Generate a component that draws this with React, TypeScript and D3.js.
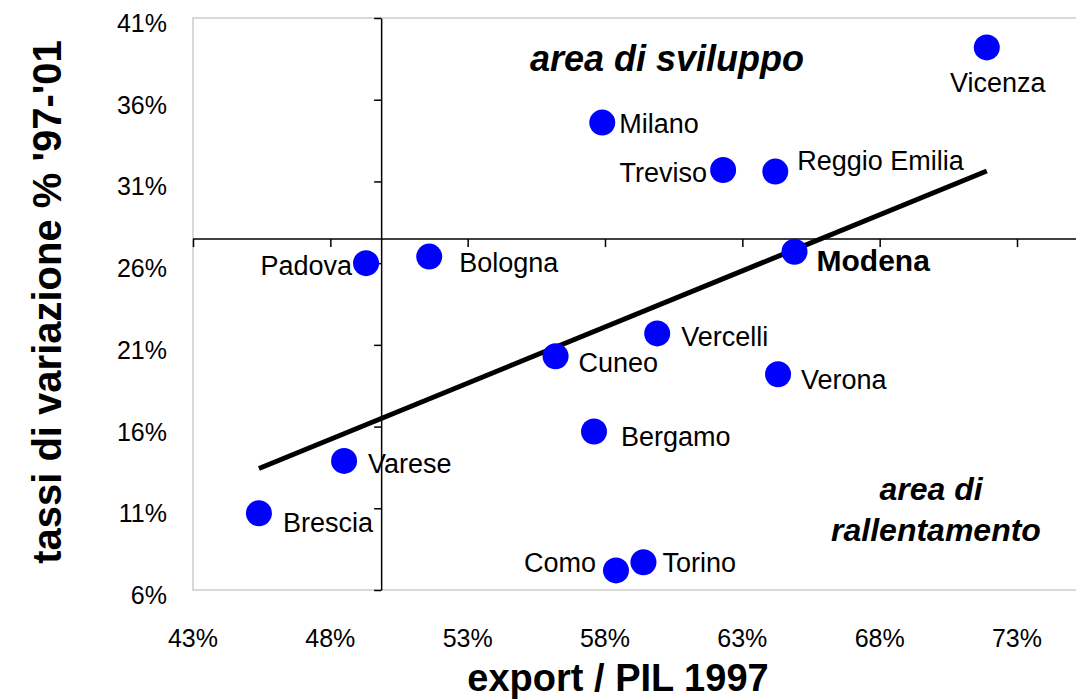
import { useEffect, useRef } from 'react';
import * as d3 from 'd3';

// ── Data: export/PIL 1997 vs growth '97-'01 (percent) ───────────────────────
const CITIES = ['Vicenza', 'Milano', 'Treviso', 'Reggio Emilia', 'Modena', 'Padova', 'Bologna',
  'Vercelli', 'Cuneo', 'Verona', 'Bergamo', 'Varese', 'Brescia', 'Como', 'Torino'];
const EXPORT_PIL = [71.9, 57.9, 62.3, 64.2, 64.9, 49.3, 51.6, 59.9, 56.2, 64.3, 57.6, 48.5, 45.4, 58.4, 59.4];
const GROWTH = [39.2, 34.6, 31.7, 31.6, 26.7, 26.0, 26.4, 21.7, 20.3, 19.2, 15.7, 13.9, 10.7, 7.2, 7.7];
const X_TICKS = [43, 48, 53, 58, 63, 68, 73];
const Y_TICKS = [6, 11, 16, 21, 26, 31, 36, 41];
const CROSS_X = 49.85;  // where the vertical axis sits
const CROSS_Y = 27.47;  // where the horizontal axis sits

// label placement per city: [dx, dy, anchor, bold]
const LABEL_POS: [number, number, string, boolean][] = [
  [11, 45, 'middle', false], [17, 10, 'start', false], [-16, 12, 'end', false], [22, -2, 'start', false],
  [22, 19, 'start', true], [-14, 12, 'end', false], [30, 15, 'start', false], [24, 13, 'start', false],
  [23, 16, 'start', false], [23, 15, 'start', false], [27, 15, 'start', false], [24, 12, 'start', false],
  [24, 19, 'start', false], [-20, 2, 'end', false], [19, 10, 'start', false],
];

const W = 1076, H = 699;
const FONT = '"Liberation Sans", Arial, Helvetica, sans-serif';

export default function App() {
  const svgRef = useRef<SVGSVGElement>(null);

  useEffect(() => {
    const svg = d3.select(svgRef.current);
    svg.selectAll('*').remove();

    const x = d3.scaleLinear().domain([43, 73]).range([193, 1017]);
    const y = d3.scaleLinear().domain([6, 41]).range([590, 18]);

    // plot frame (runs off the right edge like the original)
    svg.append('rect')
      .attr('x', x(43)).attr('y', y(41))
      .attr('width', x(76) - x(43)).attr('height', y(6) - y(41))
      .attr('fill', 'none').attr('stroke', '#c0c0c0').attr('stroke-width', 1.2);

    // horizontal axis crossing at CROSS_Y
    svg.append('g').attr('transform', `translate(0,${y(CROSS_Y)})`)
      .call(d3.axisBottom(x).tickValues(X_TICKS).tickSize(8).tickSizeOuter(0).tickFormat(() => ''))
      .call(ax => ax.select('.domain').attr('d', `M${x(43)},0H${x(76)}`))
      .call(ax => ax.selectAll('line, path').attr('stroke', '#000').attr('stroke-width', 1.5));

    // vertical axis crossing at CROSS_X
    svg.append('g').attr('transform', `translate(${x(CROSS_X)},0)`)
      .call(d3.axisLeft(y).tickValues(Y_TICKS).tickSize(7).tickSizeOuter(0).tickFormat(() => ''))
      .call(ax => ax.selectAll('line, path').attr('stroke', '#000').attr('stroke-width', 1.5));

    // tick labels at the frame edges
    svg.append('g').selectAll('text').data(X_TICKS).enter().append('text')
      .attr('x', d => x(d)).attr('y', 647)
      .attr('text-anchor', 'middle').style('font-family', FONT).style('font-size', '25px')
      .text(d => `${d}%`);
    svg.append('g').selectAll('text').data(Y_TICKS).enter().append('text')
      .attr('x', 167).attr('y', d => y(d) + 14)
      .attr('text-anchor', 'end').style('font-family', FONT).style('font-size', '25px')
      .text(d => `${d}%`);

    // axis titles
    svg.append('text').attr('x', 618).attr('y', 691)
      .attr('text-anchor', 'middle').style('font-family', FONT).style('font-size', '38px').style('font-weight', 'bold')
      .text('export / PIL 1997');
    svg.append('text').attr('transform', 'translate(61,302) rotate(-90)')
      .attr('text-anchor', 'middle').style('font-family', FONT).style('font-size', '40px').style('font-weight', 'bold')
      .text("tassi di variazione % '97-'01");

    // area annotations
    svg.append('text').attr('x', 667).attr('y', 71)
      .attr('text-anchor', 'middle').style('font-family', FONT).style('font-size', '36px')
      .style('font-weight', 'bold').style('font-style', 'italic')
      .text('area di sviluppo');
    svg.append('text').attr('x', 931).attr('y', 500)
      .attr('text-anchor', 'middle').style('font-family', FONT).style('font-size', '32px')
      .style('font-weight', 'bold').style('font-style', 'italic')
      .text('area di');
    svg.append('text').attr('x', 936).attr('y', 541)
      .attr('text-anchor', 'middle').style('font-family', FONT).style('font-size', '32px')
      .style('font-weight', 'bold').style('font-style', 'italic')
      .text('rallentamento');

    const pts = CITIES.map((c, i) => ({ c, x: EXPORT_PIL[i], y: GROWTH[i], pos: LABEL_POS[i] }));

    // least squares trend line across the x range of the data
    const mx = d3.mean(pts, d => d.x)!, my = d3.mean(pts, d => d.y)!;
    const slope = d3.sum(pts, d => (d.x - mx) * (d.y - my)) / d3.sum(pts, d => (d.x - mx) ** 2);
    const [x0, x1] = d3.extent(pts, d => d.x) as [number, number];
    const fit = (v: number) => my + slope * (v - mx);
    svg.append('line')
      .attr('x1', x(x0)).attr('y1', y(fit(x0)))
      .attr('x2', x(x1)).attr('y2', y(fit(x1)))
      .attr('stroke', '#000').attr('stroke-width', 5);

    // points
    svg.append('g').selectAll('circle').data(pts).enter().append('circle')
      .attr('cx', d => x(d.x)).attr('cy', d => y(d.y)).attr('r', 13)
      .attr('fill', '#0000ff');

    // labels
    svg.append('g').selectAll('text').data(pts).enter().append('text')
      .attr('x', d => x(d.x) + d.pos[0]).attr('y', d => y(d.y) + d.pos[1])
      .attr('text-anchor', d => d.pos[2])
      .style('font-family', FONT).style('font-size', d => d.pos[3] ? '30px' : '27px')
      .style('font-weight', d => d.pos[3] ? 'bold' : 'normal')
      .text(d => d.c);
  }, []);

  return (
    <div style={{ position: 'absolute', left: 0, top: 0, width: W, height: H, background: '#fff', overflow: 'hidden' }}>
      <svg ref={svgRef} width={W} height={H} viewBox={`0 0 ${W} ${H}`} style={{ display: 'block' }} />
    </div>
  );
}
